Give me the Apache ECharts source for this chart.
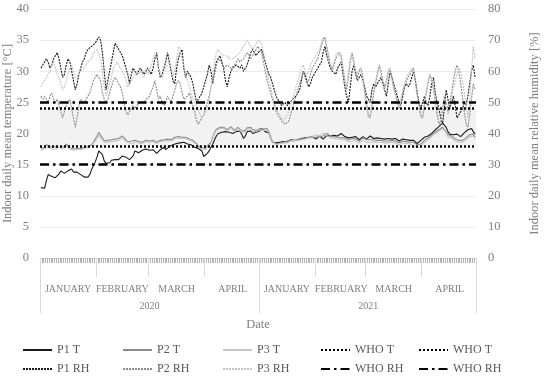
<!DOCTYPE html>
<html><head><meta charset="utf-8">
<script src="https://cdn.jsdelivr.net/npm/echarts@6/dist/echarts.min.js"></script>
<style>html,body{margin:0;padding:0;background:#fff}#c{width:550px;height:385px}</style>
</head><body><div id="c"></div><script>
const years = [2020, 2021];
const monthNames = ['JANUARY', 'FEBRUARY', 'MARCH', 'APRIL'];
const monthDays = [[31, 29, 31, 30], [31, 28, 31, 30]];
const tempTicks = [0, 40, 5];
const rhTicks = [0, 80, 10];
const whoT = [18, 24];
const whoRH = [30, 50];

const p1T2020 = [11.3,11.2,11.2,12.4,13.4,13.3,13.1,12.8,12.9,12.6,
13.5,14.0,13.8,13.6,13.7,14.0,14.2,14.3,13.8,13.6,
13.8,13.5,13.4,13.3,13.0,13.1,13.0,13.4,14.2,14.8,
15.4,16.2,17.2,17.3,16.6,15.6,15.2,15.4,15.3,15.7,
16.0,15.8,15.6,15.8,16.1,16.4,16.5,16.2,16.0,15.8,
16.0,16.4,17.2,17.3,16.9,17.0,17.3,17.2,17.5,17.8,
17.3,17.1,17.4,17.6,16.8,16.9,17.4,17.6,17.8,17.4,
17.6,17.9,18.0,18.2,18.3,18.4,18.2,18.5,18.4,18.6,
18.5,18.3,18.4,18.2,18.0,17.8,17.9,17.6,17.7,17.2,
16.3,16.5,16.8,17.2,17.5,18.3,19.0,19.6,20.0,20.3,
20.2,20.4,20.3,20.1,20.2,20.4,20.0,19.8,20.3,20.6,
20.4,19.9,19.2,19.6,20.3,20.6,20.4,20.0,19.8,20.2,
20.4];
const p1T2021 = [20.4,20.8,20.6,20.3,20.6,20.1,19.3,18.6,18.4,18.5,
18.4,18.6,18.5,18.7,18.8,18.6,18.8,19.0,18.8,18.9,
19.1,18.9,19.0,19.2,19.0,19.3,19.1,19.4,19.2,19.5,
19.3,19.1,19.4,19.6,19.3,19.1,19.4,19.7,19.5,19.6,
19.9,19.7,19.4,19.6,19.8,20.0,19.7,19.5,19.6,19.3,
19.1,19.4,19.6,19.5,19.2,19.0,19.3,19.5,19.4,19.1,
19.3,19.6,19.4,19.2,19.5,19.3,19.0,19.2,19.4,19.1,
18.9,19.2,19.4,19.1,18.9,19.2,19.0,18.8,18.9,19.1,
19.3,19.0,18.8,18.9,19.1,18.9,18.7,18.4,18.6,18.9,
19.2,19.4,19.3,19.6,19.9,20.0,20.3,20.6,20.9,21.1,
21.4,21.7,21.8,21.0,20.3,19.9,20.2,19.8,19.6,19.9,
19.7,19.5,19.8,20.1,20.3,20.6,20.4,20.8,20.3,19.9];

const p2T2020 = [17.6,17.4,17.8,18.2,18.0,17.8,17.7,17.9,17.6,17.8,
18.0,17.8,17.7,17.9,18.3,18.1,17.7,17.8,17.5,17.3,
17.6,17.8,17.6,17.5,17.8,17.9,17.9,18.0,18.2,18.6,
19.1,19.6,20.2,20.0,19.3,18.8,18.5,18.9,19.1,19.0,
19.3,19.1,18.9,19.2,19.4,19.6,19.3,19.0,18.6,18.7,
18.8,18.5,18.9,19.0,18.7,18.4,18.6,18.8,18.9,19.2,
18.8,18.7,18.9,19.1,18.6,18.7,18.9,19.2,19.0,18.8,
19.1,19.3,19.0,19.1,19.4,19.2,19.5,19.3,19.4,19.6,
19.4,19.3,19.1,19.0,18.9,18.6,18.4,18.0,17.9,17.7,
17.4,17.6,18.0,18.3,18.6,19.4,20.2,20.7,20.9,21.0,
20.9,21.0,20.8,20.6,20.9,21.1,20.8,20.5,20.7,21.0,
20.8,20.4,20.1,20.5,20.9,21.2,21.0,20.6,20.3,20.5,
20.7];
const p2T2021 = [20.8,21.0,20.7,20.5,20.8,20.3,19.4,18.7,18.5,18.4,
18.5,18.4,18.6,18.5,18.7,18.8,18.7,18.9,19.0,18.8,
18.9,19.1,19.0,19.1,19.3,19.2,19.4,19.3,19.5,19.4,
19.6,19.4,19.2,19.5,19.7,19.6,19.8,20.0,19.8,19.6,
19.7,19.5,19.2,19.4,19.5,19.3,19.1,19.3,19.2,19.0,
18.9,19.2,19.3,19.1,18.9,18.8,19.1,19.3,19.2,19.0,
18.8,19.0,19.2,19.0,18.8,18.9,18.7,18.9,19.0,18.8,
18.6,18.8,19.0,18.9,18.7,18.8,18.6,18.5,18.7,18.8,
18.9,18.7,18.5,18.6,18.8,18.6,18.4,18.2,18.0,18.3,
18.6,18.9,19.0,19.3,19.5,19.8,20.0,20.2,20.4,20.6,
20.8,21.0,20.9,20.3,19.8,19.5,19.6,19.3,19.1,19.0,
18.9,18.8,18.9,19.1,19.3,19.6,19.8,20.1,19.9,19.4];

const p3T2020 = [17.3,17.5,17.6,17.9,17.8,17.6,17.5,17.7,17.5,17.6,
17.8,17.7,17.5,17.7,18.0,17.9,17.5,17.6,17.3,17.2,
17.4,17.6,17.4,17.3,17.6,17.8,17.7,17.8,18.0,18.4,
18.8,19.3,19.7,19.5,19.0,18.6,18.3,18.6,18.8,18.7,
19.0,18.8,18.6,18.9,19.1,19.3,19.0,18.7,18.4,18.5,
18.6,18.3,18.7,18.8,18.5,18.2,18.4,18.6,18.7,19.0,
18.6,18.5,18.7,18.9,18.4,18.5,18.7,19.0,18.8,18.6,
18.9,19.1,18.8,18.9,19.2,19.0,19.3,19.1,19.2,19.4,
19.2,19.1,18.9,18.8,18.7,18.4,18.2,17.8,17.7,17.5,
17.2,17.4,17.8,18.1,18.4,19.2,20.0,20.5,20.7,20.8,
20.7,20.8,20.6,20.4,20.7,20.9,20.6,20.3,20.5,20.8,
20.6,20.2,19.9,20.3,20.7,21.0,20.8,20.4,20.1,20.3,
20.5];
const p3T2021 = [20.6,20.9,20.5,20.4,20.6,20.0,19.2,18.6,18.3,18.2,
18.3,18.4,18.3,18.5,18.6,18.5,18.7,18.8,18.7,18.9,
18.8,18.9,19.1,19.0,19.2,19.1,19.3,19.4,19.3,19.5,
19.7,19.8,19.5,19.6,19.9,20.1,19.9,19.7,19.5,19.3,
19.4,19.2,19.0,19.1,19.3,19.0,18.8,19.0,18.9,18.7,
18.6,18.8,19.0,18.8,18.6,18.5,18.7,18.9,18.8,18.6,
18.4,18.6,18.8,18.7,18.5,18.6,18.4,18.6,18.7,18.5,
18.3,18.5,18.7,18.6,18.4,18.5,18.3,18.2,18.3,18.5,
18.6,18.4,18.2,18.3,18.1,18.0,17.9,17.7,17.6,17.9,
18.3,18.6,18.8,19.0,19.2,19.5,19.8,20.0,20.2,20.4,
20.6,20.8,20.6,20.0,19.5,19.2,19.3,19.0,18.8,18.7,
18.6,18.5,18.6,18.8,19.0,19.2,19.5,19.8,19.6,19.2];

const p1RH2020 = [61,62,63,64,63,61,62,64,65,66,
64,61,58,59,62,64,63,60,57,54,
56,59,61,63,64,66,67,67,68,68,
69,70,71,70,66,60,54,57,60,63,
66,69,68,67,66,65,63,61,59,56,
59,61,60,59,60,61,60,59,60,61,
60,59,61,64,66,61,58,59,61,63,
66,63,60,57,56,61,64,66,67,61,
58,60,60,58,56,53,50,51,52,53,
55,57,59,62,60,56,60,63,64,65,
63,61,57,55,58,60,61,61,62,62,
61,62,60,61,62,64,66,67,66,65,
66];
const p1RH2021 = [66,67,65,63,61,59,58,56,54,52,
51,50,49,49,50,49,49,50,51,51,
52,53,54,57,60,59,57,55,56,58,
59,60,61,61,63,66,68,65,63,61,
60,60,59,61,62,63,59,55,52,50,
55,60,62,59,57,58,59,59,55,52,
51,50,54,56,55,56,57,58,56,54,
52,56,60,58,56,54,52,50,49,52,
55,56,55,56,58,60,57,53,50,48,
50,52,50,49,52,56,58,53,50,48,
45,43,48,54,51,48,50,52,49,45,
46,47,48,50,49,52,56,60,62,58];

const p2RH2020 = [52,51,52,51,50,52,53,51,50,51,
49,47,45,47,49,50,51,48,45,42,
45,49,51,51,50,51,52,53,55,57,
58,59,59,57,53,51,50,51,53,55,
57,58,58,56,55,53,50,47,46,47,
48,49,48,49,49,50,50,50,51,51,
52,52,55,57,54,51,52,50,49,50,
52,51,50,52,54,56,57,56,53,51,
51,52,53,51,49,47,44,43,44,45,
46,48,50,52,55,57,59,62,64,64,
63,61,61,62,62,61,61,62,63,64,
63,63,64,65,66,66,64,65,66,67,
68];
const p2RH2021 = [68,66,63,60,57,55,53,51,49,47,
46,45,44,44,43,43,44,46,48,50,
52,54,56,58,60,58,56,57,59,61,
62,63,64,66,68,70,71,68,65,62,
60,62,64,65,66,65,61,57,54,58,
63,66,63,60,58,60,61,58,54,50,
46,45,49,53,56,59,62,60,57,55,
57,60,61,58,55,53,50,48,50,53,
55,57,58,59,60,61,57,53,49,46,
45,49,53,56,59,57,54,50,46,43,
44,48,52,50,47,50,53,57,60,62,
60,56,52,47,43,42,46,51,56,54];

const p3RH2020 = [55,56,57,58,58,60,62,63,61,59,
58,56,54,55,57,59,61,62,60,58,
58,59,60,60,61,62,63,63,64,66,
66,67,67,64,60,55,52,54,56,58,
61,62,63,62,61,61,59,57,55,56,
57,58,59,60,59,60,59,58,60,59,
60,62,64,66,66,62,59,58,60,61,
62,63,61,58,60,64,68,67,64,62,
59,57,55,53,51,50,49,48,46,45,
45,47,48,51,55,59,63,66,67,66,
66,65,65,65,64,64,64,64,65,65,
66,67,68,69,70,69,68,67,68,69,
70];
const p3RH2021 = [70,69,66,63,60,57,55,52,50,48,
47,46,45,44,45,46,47,49,51,53,
55,57,59,61,62,60,59,60,62,63,
64,65,66,67,69,71,70,67,64,62,
61,63,65,66,66,64,60,56,55,60,
64,65,62,60,59,61,60,57,52,48,
45,46,50,54,57,60,61,59,56,54,
56,59,60,57,54,52,50,49,51,54,
56,58,59,60,61,60,56,52,48,45,
46,50,54,57,59,58,55,51,47,44,
43,47,51,49,46,48,52,55,57,59,
61,60,57,53,49,45,50,60,68,64];

// ---- categories and multi-level axis helpers ----
const categories = [];
const monthLabelAt = {};
const monthSepIdx = [];
const yearStartIdx = [];
const yearLabelAt = {};
let k = 0;
years.forEach((y, yi) => {
  const ys = k;
  yearStartIdx.push(k);
  monthDays[yi].forEach((n, mi) => {
    if (mi > 0) monthSepIdx.push(k);
    monthLabelAt[k + Math.floor(n / 2)] = monthNames[mi];
    for (let d = 1; d <= n; d++) {
      categories.push(y + '-' + String(mi + 1).padStart(2, '0') + '-' + String(d).padStart(2, '0'));
    }
    k += n;
  });
  yearLabelAt[ys + Math.floor((k - ys) / 2)] = String(y);
});

const FONT = 'Liberation Serif';
const GRAY = '#7f7f7f';
const AX = '#d9d9d9';

function dataLine(name, data, yIdx, color, type) {
  return {
    name, type: 'line', data, yAxisIndex: yIdx, symbol: 'none', showSymbol: false,
    lineStyle: { color, width: 1.1, type }, itemStyle: { color },
    z: 3, animation: false
  };
}
function whoLine(name, value, yIdx, type) {
  return {
    name, type: 'line', data: [], yAxisIndex: yIdx, symbol: 'none',
    lineStyle: { color: '#000', width: 2.5, type }, itemStyle: { color: '#000' },
    z: 4, animation: false,
    markLine: {
      silent: true, symbol: ['none', 'none'], label: { show: false }, animation: false,
      lineStyle: { color: '#000', width: 2.5, type },
      data: [{ yAxis: value }]
    }
  };
}

const RHDASH = [2, 1];
const TDOT = [2, 2];
const RHDOT = [9, 4, 2.5, 4];

const series = [
  { name: 'band', type: 'line', data: [], z: 1, silent: true, animation: false,
    markArea: { silent: true, animation: false, itemStyle: { color: '#f2f2f2' },
      data: [[{ yAxis: whoT[0] }, { yAxis: whoT[1] }]] } },
  dataLine('P1 T', p1T2020.concat(p1T2021), 0, '#1a1a1a', 'solid'),
  dataLine('P2 T', p2T2020.concat(p2T2021), 0, '#8c8c8c', 'solid'),
  dataLine('P3 T', p3T2020.concat(p3T2021), 0, '#c4c4c4', 'solid'),
  dataLine('P1 RH', p1RH2020.concat(p1RH2021), 1, '#1a1a1a', RHDASH),
  dataLine('P2 RH', p2RH2020.concat(p2RH2021), 1, '#8c8c8c', RHDASH),
  dataLine('P3 RH', p3RH2020.concat(p3RH2021), 1, '#c4c4c4', RHDASH),
  whoLine('WHO T a', whoT[0], 0, TDOT),
  whoLine('WHO T b', whoT[1], 0, TDOT),
  whoLine('WHO RH a', whoRH[0], 1, RHDOT),
  whoLine('WHO RH b', whoRH[1], 1, RHDOT)
];

const legendCols = [['P1 T', 'P1 RH'], ['P2 T', 'P2 RH'], ['P3 T', 'P3 RH'], ['WHO T a', 'WHO RH a'], ['WHO T b', 'WHO RH b']];
const legendLeft = [22, 122, 222, 320, 418];
const legends = legendCols.map((d, i) => ({
  data: d, left: legendLeft[i], top: 344, orient: 'vertical', padding: 0,
  itemWidth: 29, itemHeight: 14, itemGap: 7, selectedMode: false,
  itemStyle: { opacity: 0 },
  formatter: (n) => n.replace(/ [ab]$/, ''),
  textStyle: { color: '#595959', fontFamily: FONT, fontSize: 12 }
}));

const chart = echarts.init(document.getElementById('c'), null, { renderer: 'canvas' });
chart.setOption({
  animation: false,
  backgroundColor: '#fff',
  textStyle: { fontFamily: FONT },
  grid: { left: 40, right: 74, top: 9, bottom: 127, containLabel: false, outerBoundsMode: 'none' },
  legend: legends,
  xAxis: [
    { type: 'category', data: categories, boundaryGap: true,
      axisLine: { show: true, lineStyle: { color: AX } },
      axisTick: { show: true, interval: 0, length: 5, lineStyle: { color: '#b3b3b3' } },
      axisLabel: { show: true, interval: (i) => monthLabelAt[i] !== undefined,
        formatter: (v, i) => monthLabelAt[i] || '', margin: 26,
        color: GRAY, fontFamily: FONT, fontSize: 10 },
      splitLine: { show: false } },
    { type: 'category', data: categories, boundaryGap: true, position: 'bottom', offset: 19,
      axisLine: { show: false },
      axisTick: { show: true, interval: (i) => monthSepIdx.includes(i), length: 19, lineStyle: { color: AX } },
      axisLabel: { show: false }, splitLine: { show: false } },
    { type: 'category', data: categories, boundaryGap: true, position: 'bottom', offset: 0,
      axisLine: { show: false },
      axisTick: { show: true, interval: (i) => yearStartIdx.includes(i), length: 55, lineStyle: { color: AX } },
      axisLabel: { show: true, interval: (i) => yearLabelAt[i] !== undefined,
        formatter: (v, i) => yearLabelAt[i] || '', margin: 43,
        color: GRAY, fontFamily: FONT, fontSize: 10 },
      splitLine: { show: false },
      name: 'Date', nameLocation: 'middle', nameGap: 60, nameMoveOverlap: false,
      nameTextStyle: { color: GRAY, fontFamily: FONT, fontSize: 12.5 } }
  ],
  yAxis: [
    { type: 'value', min: tempTicks[0], max: tempTicks[1], interval: tempTicks[2], position: 'left',
      axisLine: { show: false }, axisTick: { show: false },
      splitLine: { show: true, lineStyle: { color: '#ebebeb', width: 1 } },
      axisLabel: { color: GRAY, fontFamily: FONT, fontSize: 12.5, margin: 11 },
      name: 'Indoor daily mean temperature [°C]', nameLocation: 'middle', nameGap: 26, nameMoveOverlap: false,
      nameTextStyle: { color: GRAY, fontFamily: FONT, fontSize: 12.5 } },
    { type: 'value', min: rhTicks[0], max: rhTicks[1], interval: rhTicks[2], position: 'right',
      axisLine: { show: false }, axisTick: { show: false }, splitLine: { show: false },
      axisLabel: { color: GRAY, fontFamily: FONT, fontSize: 12.5, margin: 12 },
      name: 'Indoor daily mean relative humidity [%]', nameLocation: 'middle', nameGap: 52, nameMoveOverlap: false,
      nameTextStyle: { color: GRAY, fontFamily: FONT, fontSize: 12.5 } }
  ],
  series
});
</script></body></html>
